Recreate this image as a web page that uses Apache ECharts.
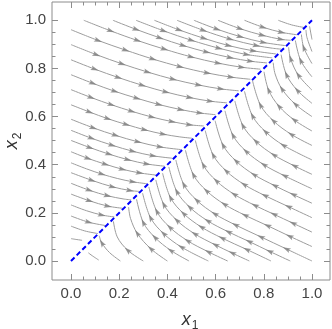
<!DOCTYPE html>
<html>
<head>
<meta charset="utf-8">
<script src="https://cdn.jsdelivr.net/npm/echarts@6/dist/echarts.min.js"></script>
<style>
    html, body { margin: 0; padding: 0; background: #fff; }
    #chart { width: 332px; height: 329px; }
</style>
</head>
<body>
<div id="chart"></div>
<script>
// tick values and their labels (same on both axes)
var tickValues = [0, 0.2, 0.4, 0.6, 0.8, 1.0];
var tickLabels = ['0.0', '0.2', '0.4', '0.6', '0.8', '1.0'];

// dashed blue diagonal x1 = x2
var diagonal = [[0, 0], [1, 1]];

// stream lines above the diagonal, starting on the left edge (x1 = 0)
var leftStreams = [
    [[0, 0.961], [0.113, 0.916], [0.227, 0.876], [0.340, 0.839], [0.453, 0.807], [0.566, 0.781], [0.664, 0.764], [0.744, 0.755]],
    [[0, 0.899], [0.106, 0.857], [0.212, 0.819], [0.318, 0.785], [0.424, 0.755], [0.530, 0.731], [0.622, 0.715], [0.696, 0.707]],
    [[0, 0.836], [0.099, 0.797], [0.197, 0.762], [0.296, 0.730], [0.394, 0.702], [0.493, 0.679], [0.578, 0.664], [0.647, 0.657]],
    [[0, 0.774], [0.091, 0.738], [0.182, 0.705], [0.274, 0.676], [0.365, 0.650], [0.456, 0.629], [0.535, 0.615], [0.599, 0.608]],
    [[0, 0.712], [0.084, 0.679], [0.168, 0.649], [0.252, 0.622], [0.336, 0.598], [0.420, 0.579], [0.492, 0.566], [0.551, 0.561]],
    [[0, 0.649], [0.077, 0.619], [0.153, 0.591], [0.230, 0.567], [0.306, 0.545], [0.383, 0.527], [0.449, 0.516], [0.502, 0.510]],
    [[0, 0.589], [0.093, 0.553], [0.185, 0.522], [0.278, 0.495], [0.370, 0.474], [0.456, 0.463]],
    [[0, 0.543], [0.085, 0.510], [0.171, 0.481], [0.256, 0.456], [0.341, 0.437], [0.420, 0.427]],
    [[0, 0.501], [0.079, 0.471], [0.158, 0.444], [0.236, 0.421], [0.315, 0.403], [0.388, 0.394]],
    [[0, 0.454], [0.071, 0.426], [0.143, 0.402], [0.214, 0.381], [0.285, 0.366], [0.352, 0.357]],
    [[0, 0.408], [0.064, 0.383], [0.128, 0.361], [0.192, 0.343], [0.257, 0.329], [0.316, 0.321]],
    [[0, 0.367], [0.087, 0.335], [0.173, 0.308], [0.245, 0.293], [0.284, 0.289]],
    [[0, 0.323], [0.076, 0.294], [0.152, 0.271], [0.216, 0.258], [0.250, 0.254]],
    [[0, 0.278], [0.077, 0.250], [0.153, 0.228], [0.215, 0.219]],
    [[0, 0.233], [0.064, 0.209], [0.128, 0.191], [0.180, 0.183]],
    [[0, 0.187], [0.074, 0.161], [0.145, 0.147]],
    [[0, 0.145], [0.057, 0.125], [0.112, 0.114]],
    [[0, 0.093], [0.025, 0.089], [0.046, 0.086]]
];

// stream lines above the diagonal, starting on the top edge (x2 = 1)
var topStreams = [
    [[0.053, 1.0], [0.165, 0.956], [0.276, 0.916], [0.388, 0.880], [0.499, 0.848], [0.611, 0.822], [0.708, 0.805], [0.786, 0.797]],
    [[0.174, 1.0], [0.271, 0.962], [0.369, 0.927], [0.466, 0.895], [0.563, 0.868], [0.661, 0.845], [0.745, 0.830], [0.813, 0.823]],
    [[0.270, 1.0], [0.385, 0.956], [0.500, 0.917], [0.614, 0.884], [0.729, 0.858], [0.835, 0.844]],
    [[0.346, 1.0], [0.449, 0.960], [0.552, 0.925], [0.654, 0.895], [0.757, 0.873], [0.852, 0.860]],
    [[0.440, 1.0], [0.550, 0.958], [0.660, 0.922], [0.770, 0.895], [0.836, 0.884], [0.873, 0.880]],
    [[0.510, 1.0], [0.606, 0.963], [0.703, 0.932], [0.799, 0.908], [0.889, 0.895]],
    [[0.610, 1.0], [0.702, 0.965], [0.794, 0.938], [0.871, 0.921], [0.912, 0.917]],
    [[0.720, 1.0], [0.797, 0.971], [0.874, 0.950], [0.937, 0.940]],
    [[0.860, 1.0], [0.915, 0.981], [0.968, 0.970]]
];

// stream lines below the diagonal, starting on the bottom edge (x2 = 0)
var bottomStreams = [
    [[0.115, 0.004], [0.088, 0.022], [0.072, 0.034]],
    [[0.205, 0], [0.160, 0.035], [0.128, 0.075], [0.117, 0.105]],
    [[0.30, 0], [0.235, 0.045], [0.192, 0.100], [0.176, 0.165]],
    [[0.40, 0], [0.331, 0.051], [0.275, 0.115], [0.247, 0.177], [0.239, 0.224]],
    [[0.49, 0], [0.414, 0.044], [0.348, 0.098], [0.300, 0.160], [0.272, 0.257]],
    [[0.57, 0], [0.458, 0.058], [0.384, 0.114], [0.330, 0.180], [0.297, 0.282]],
    [[0.65, 0], [0.570, 0.038], [0.484, 0.084], [0.410, 0.140], [0.356, 0.206], [0.323, 0.308]],
    [[0.74, 0], [0.669, 0.033], [0.599, 0.067], [0.513, 0.113], [0.439, 0.169], [0.385, 0.235], [0.352, 0.337]],
    [[0.83, 0], [0.729, 0.048], [0.627, 0.095], [0.541, 0.141], [0.467, 0.197], [0.413, 0.263], [0.380, 0.365]],
    [[0.91, 0], [0.824, 0.040], [0.739, 0.081], [0.653, 0.121], [0.567, 0.167], [0.493, 0.223], [0.439, 0.289], [0.406, 0.391]]
];

// stream lines below the diagonal, starting on the right edge (x1 = 1)
var rightStreams = [
    [[1, 0], [0.894, 0.050], [0.788, 0.100], [0.682, 0.150], [0.596, 0.196], [0.522, 0.252], [0.468, 0.318], [0.435, 0.420]],
    [[1, 0.06], [0.907, 0.103], [0.815, 0.147], [0.722, 0.190], [0.636, 0.236], [0.562, 0.292], [0.508, 0.358], [0.475, 0.460]],
    [[1, 0.12], [0.921, 0.157], [0.842, 0.194], [0.763, 0.231], [0.677, 0.277], [0.603, 0.333], [0.549, 0.399], [0.516, 0.501]],
    [[1, 0.18], [0.902, 0.226], [0.804, 0.272], [0.718, 0.318], [0.644, 0.374], [0.590, 0.440], [0.557, 0.542]],
    [[1, 0.24], [0.922, 0.276], [0.845, 0.313], [0.759, 0.359], [0.685, 0.415], [0.631, 0.481], [0.598, 0.583]],
    [[1, 0.30], [0.886, 0.354], [0.800, 0.400], [0.726, 0.456], [0.672, 0.522], [0.639, 0.624]],
    [[1, 0.36], [0.927, 0.395], [0.841, 0.441], [0.767, 0.497], [0.713, 0.563], [0.680, 0.665]],
    [[1, 0.42], [0.881, 0.481], [0.807, 0.537], [0.753, 0.603], [0.720, 0.705]],
    [[1, 0.48], [0.914, 0.526], [0.840, 0.582], [0.786, 0.648], [0.753, 0.750]],
    [[1, 0.54], [0.926, 0.586], [0.863, 0.643], [0.820, 0.710], [0.801, 0.786]],
    [[1, 0.60], [0.931, 0.651], [0.875, 0.715], [0.847, 0.777], [0.839, 0.824]],
    [[1, 0.655], [0.939, 0.709], [0.894, 0.774], [0.872, 0.857]],
    [[1, 0.71], [0.943, 0.773], [0.911, 0.841], [0.903, 0.888]],
    [[1, 0.765], [0.953, 0.833], [0.931, 0.916]],
    [[1, 0.82], [0.966, 0.886], [0.956, 0.941]],
    [[1, 0.87], [0.979, 0.929], [0.975, 0.960]],
    [[1, 0.92], [0.995, 0.947], [0.990, 0.975]]
];

var font = 'Liberation Sans, Arial, sans-serif';
var frameColor = '#8c8c8c';
var chart = echarts.init(document.getElementById('chart'));

var streams = leftStreams.concat(topStreams, bottomStreams, rightStreams);

// 流线
var series = streams.map(function (pts) {
    return {
        type: 'line',
        xAxisIndex: 0,
        yAxisIndex: 0,
        data: pts,
        smooth: 0.35,
        symbol: 'none',
        silent: true,
        lineStyle: { color: '#9c9c9c', width: 1 },
        z: 2
    };
});

// arrow heads on inner points, turned along the line; skip points that
// come too soon after the previous arrow so heads don't pile up
var arrows = [];
streams.forEach(function (pts) {
    var run = 0;
    for (var i = 1; i < pts.length - 1; i++) {
        run += Math.hypot(pts[i][0] - pts[i - 1][0], pts[i][1] - pts[i - 1][1]);
        if (run < 0.07) continue;
        run = 0;
        var dx = (pts[i + 1][0] - pts[i - 1][0]) * 241;
        var dy = (pts[i + 1][1] - pts[i - 1][1]) * 240.7;
        var ang = Math.atan2(dy, dx) * 180 / Math.PI;
        arrows.push({ value: pts[i], symbolRotate: ang - 90 });
    }
});
series.push({
    type: 'scatter',
    xAxisIndex: 0,
    yAxisIndex: 0,
    data: arrows,
    symbol: 'path://M5,0L10,13L5,10.5L0,13Z',
    symbolSize: [5, 8],
    silent: true,
    itemStyle: { color: '#808080' },
    z: 3
});

// 对角线
series.push({
    type: 'line',
    xAxisIndex: 0,
    yAxisIndex: 0,
    data: diagonal,
    symbol: 'none',
    silent: true,
    lineStyle: { color: '#0000ff', width: 2, type: [5, 3] },
    z: 5
});

function tickAxis(extra) {
    var base = {
        type: 'value',
        min: 0,
        max: 1,
        interval: 0.2,
        axisLine: { show: false },
        axisTick: { inside: true, length: 6, lineStyle: { color: frameColor } },
        minorTick: { show: true, splitNumber: 4, length: 3.5, lineStyle: { color: frameColor } },
        splitLine: { show: false },
        minorSplitLine: { show: false },
        axisLabel: {
            margin: 6,
            fontSize: 15,
            fontFamily: font,
            color: '#444',
            formatter: function (v) {
                return tickLabels[tickValues.indexOf(Math.round(v * 10) / 10)];
            }
        }
    };
    return Object.assign(base, extra);
}

var option = {
    animation: false,
    grid: [
        // plot frame
        { left: 52, right: 2, top: 2, bottom: 49, show: true, borderColor: frameColor, borderWidth: 1, backgroundColor: 'transparent', containLabel: false },
        // x ticks: 0 .. 1 span
        { left: 71, right: 20, top: 2, bottom: 49, containLabel: false },
        // y ticks: 0 .. 1 span
        { left: 52, right: 2, top: 20.3, bottom: 68, containLabel: false }
    ],
    xAxis: [
        { gridIndex: 0, type: 'value', min: -0.0788, max: 1.0747, show: false },
        tickAxis({ gridIndex: 1, position: 'bottom' }),
        tickAxis({ gridIndex: 1, position: 'top', axisLabel: { show: false } }),
        { gridIndex: 2, type: 'value', min: 0, max: 1, show: false }
    ],
    yAxis: [
        { gridIndex: 0, type: 'value', min: -0.0789, max: 1.076, show: false },
        { gridIndex: 1, type: 'value', min: 0, max: 1, show: false },
        tickAxis({ gridIndex: 2, position: 'left' }),
        tickAxis({ gridIndex: 2, position: 'right', axisLabel: { show: false } })
    ],
    graphic: [
        {
            type: 'text',
            x: 190,
            y: 321,
            style: {
                text: '{i|x}{s|1}',
                align: 'center',
                verticalAlign: 'middle',
                rich: {
                    i: { fontFamily: font, fontStyle: 'italic', fontSize: 18, fill: '#333', verticalAlign: 'bottom', padding: [0, 0, 3, 0] },
                    s: { fontFamily: font, fontSize: 12, fill: '#333', verticalAlign: 'bottom', padding: [0, 0, 0, 1] }
                }
            }
        },
        {
            type: 'text',
            x: 13,
            y: 141,
            rotation: Math.PI / 2,
            style: {
                text: '{i|x}{s|2}',
                align: 'center',
                verticalAlign: 'middle',
                rich: {
                    i: { fontFamily: font, fontStyle: 'italic', fontSize: 18, fill: '#333', verticalAlign: 'bottom', padding: [0, 0, 3, 0] },
                    s: { fontFamily: font, fontSize: 12, fill: '#333', verticalAlign: 'bottom', padding: [0, 0, 0, 1] }
                }
            }
        }
    ],
    series: series
};

chart.setOption(option);
</script>
</body>
</html>
